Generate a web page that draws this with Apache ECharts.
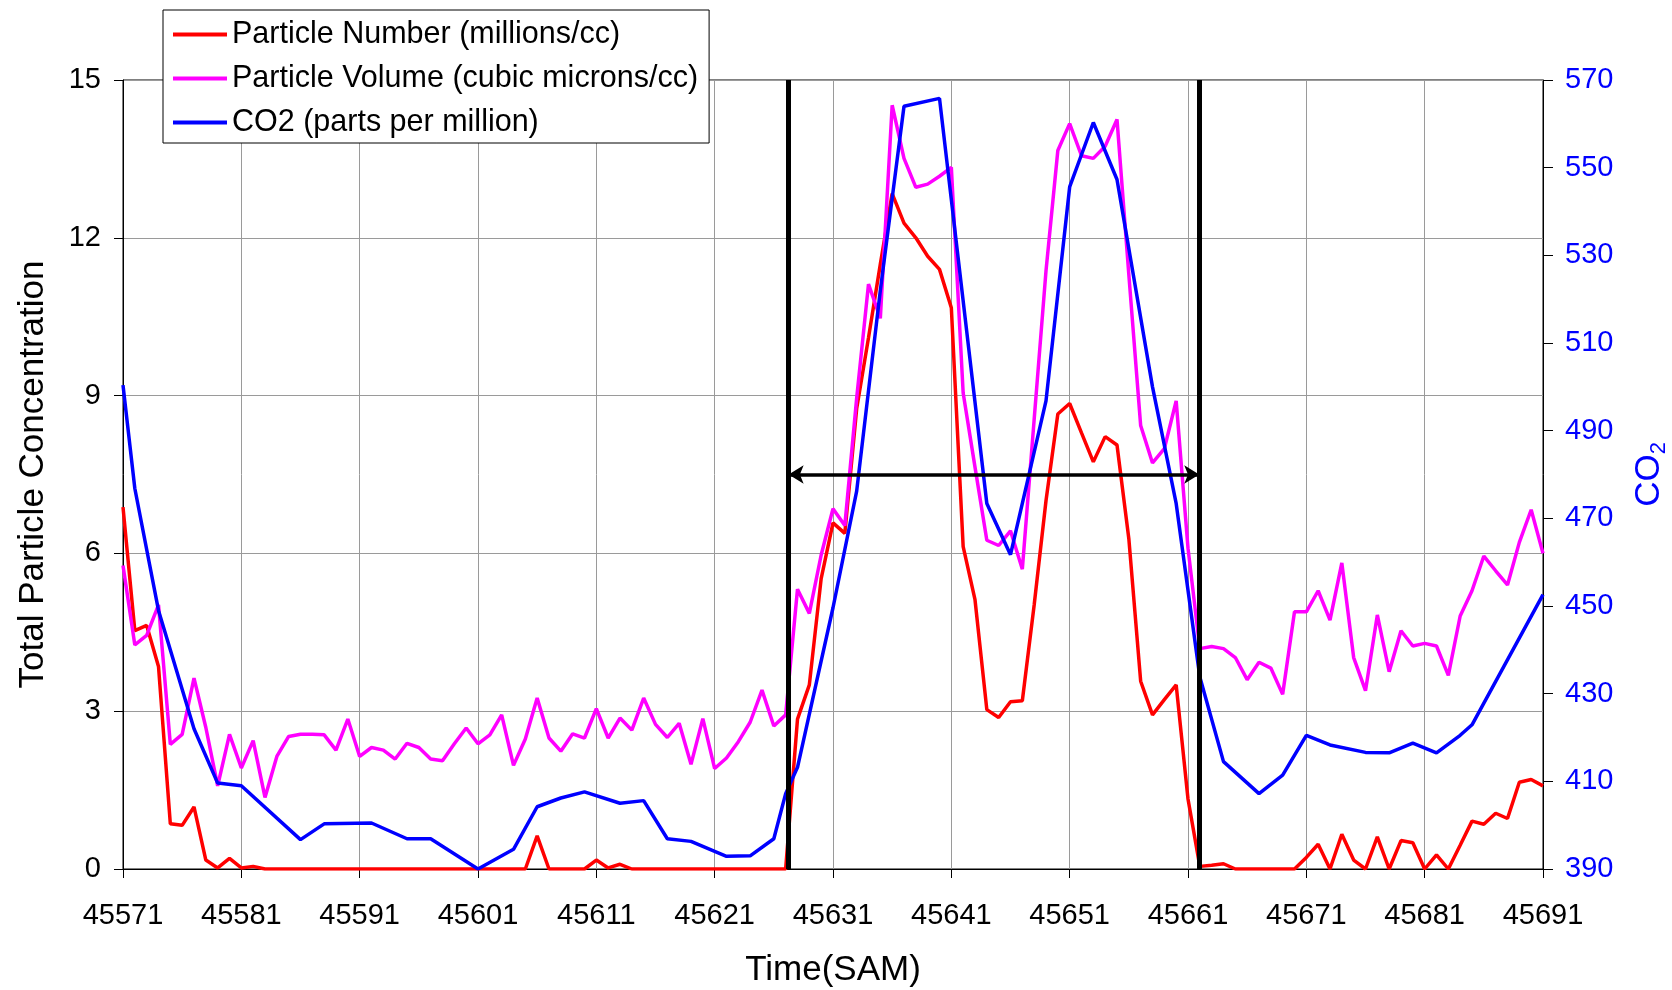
<!DOCTYPE html>
<html>
<head>
<meta charset="utf-8">
<title>Particle and CO2 concentration</title>
<script src="https://cdn.jsdelivr.net/npm/echarts@6/dist/echarts.min.js"></script>
<style>
  html, body { margin: 0; padding: 0; background: #fff; }
  #chart { width: 1672px; height: 990px; }
</style>
</head>
<body>
<div id="chart"></div>
<script>
// Time axis origin (seconds after midnight); particle samples are one per second from here.
const T0 = 45571;
const T_END = 45691;

// Particle number, millions/cc, one value per second from 45571 to 45691
const particleNumber = [
  6.88, 4.53, 4.63, 3.85, 0.86, 0.83, 1.18, 0.17, 0.02, 0.20,   // 45571-45580
  0.02, 0.05, 0, 0, 0, 0, 0, 0, 0, 0,                           // 45581-45590
  0, 0, 0, 0, 0, 0, 0, 0, 0, 0,                                 // 45591-45600
  0, 0, 0, 0, 0, 0.63, 0, 0, 0, 0,                              // 45601-45610
  0.17, 0.02, 0.09, 0, 0, 0, 0, 0, 0, 0,                        // 45611-45620
  0, 0, 0, 0, 0, 0, 0, 2.85, 3.50, 5.52,                        // 45621-45630
  6.58, 6.38, 8.75, 10.1, 11.5, 12.84, 12.28, 12.0, 11.65, 11.4, // 45631-45640
  10.67, 6.13, 5.12, 3.03, 2.88, 3.18, 3.20, 5.02, 7.0, 8.65,   // 45641-45650
  8.85, 8.29, 7.74, 8.22, 8.06, 6.28, 3.57, 2.93, 3.22, 3.50,   // 45651-45660
  1.33, 0.05, 0.07, 0.10, 0, 0, 0, 0, 0, 0,                     // 45661-45670
  0.22, 0.47, 0, 0.66, 0.17, 0, 0.61, 0, 0.54, 0.50,            // 45671-45680
  0, 0.27, 0, 0.45, 0.91, 0.85, 1.06, 0.96, 1.65, 1.70,         // 45681-45690
  1.58                                                          // 45691
];

// Particle volume, cubic microns/cc, same time base
const particleVolume = [
  5.77, 4.26, 4.44, 5.02, 2.37, 2.56, 3.63, 2.69, 1.58, 2.56,   // 45571-45580
  1.92, 2.44, 1.36, 2.14, 2.52, 2.56, 2.56, 2.55, 2.26, 2.85,   // 45581-45590
  2.14, 2.31, 2.26, 2.09, 2.39, 2.31, 2.09, 2.06, 2.38, 2.68,   // 45591-45600
  2.38, 2.55, 2.93, 1.97, 2.47, 3.25, 2.49, 2.24, 2.57, 2.49,   // 45601-45610
  3.05, 2.49, 2.87, 2.64, 3.25, 2.75, 2.50, 2.77, 1.99, 2.86,   // 45611-45620
  1.91, 2.11, 2.42, 2.79, 3.40, 2.72, 2.93, 5.32, 4.86, 5.97,   // 45621-45630
  6.85, 6.53, 8.95, 11.12, 10.47, 14.52, 13.51, 12.96, 13.02, 13.17, // 45631-45640
  13.34, 9.05, 7.64, 6.25, 6.15, 6.43, 5.70, 8.55, 11.37, 13.66, // 45641-45650
  14.17, 13.56, 13.51, 13.74, 14.25, 11.3, 8.43, 7.72, 7.99, 8.90, // 45651-45660
  6.1, 4.19, 4.23, 4.19, 4.02, 3.60, 3.93, 3.82, 3.32, 4.89,    // 45661-45670
  4.89, 5.29, 4.73, 5.82, 4.02, 3.39, 4.83, 3.75, 4.53, 4.24,   // 45671-45680
  4.29, 4.24, 3.68, 4.81, 5.29, 5.95, 5.67, 5.40, 6.21, 6.83,   // 45681-45690
  6.00                                                          // 45691
];

// CO2 readings (ppm) at their own sample times
const co2Time = [
  45571, 45572, 45574, 45577, 45579, 45581, 45586, 45588, 45592, 45595,
  45597, 45601, 45604, 45606, 45608, 45610, 45613, 45615, 45617, 45619,
  45622, 45624, 45626, 45627, 45628, 45631, 45633, 45635, 45637, 45640,
  45644, 45646, 45649, 45651, 45653, 45655, 45658, 45660, 45662, 45664,
  45667, 45669, 45671, 45673, 45676, 45678, 45680, 45682, 45684, 45685,
  45691
];
const co2Value = [
  500.4, 476.8, 449.0, 422.0, 409.6, 409.0, 396.7, 400.3, 400.5, 396.9,
  396.9, 390.0, 394.5, 404.2, 406.2, 407.6, 405.0, 405.6, 396.9, 396.3,
  392.9, 393.0, 396.9, 407.2, 413.2, 449.6, 476.2, 522.0, 564.0, 565.8,
  473.4, 461.7, 496.8, 545.6, 560.3, 547.3, 500.0, 473.4, 433.8, 414.5,
  407.2, 411.4, 420.5, 418.3, 416.6, 416.5, 418.7, 416.5, 420.5, 422.9,
  452.6
];

// Event window marked with vertical bars and a double-headed arrow
const eventStart = 45627.25;
const eventEnd = 45661.95;
const arrowLevel = 7.5;

const FONT = '"Liberation Sans", Arial, sans-serif';
const BLUE = '#0000FF';

// x positions are seconds elapsed since T0; the axis labels show real time
const numberData = particleNumber.map((v, i) => [i, v]);
const volumeData = particleVolume.map((v, i) => [i, v]);
const co2Data = co2Time.map((t, k) => [t - T0, co2Value[k]]);

const chart = echarts.init(document.getElementById('chart'), null, { renderer: 'canvas' });

chart.setOption({
  animation: false,
  backgroundColor: '#ffffff',
  textStyle: { fontFamily: FONT },
  grid: {
    left: 123, right: 129, top: 80, bottom: 121,
    outerBoundsMode: 'none',
    containLabel: false,
    show: true, borderColor: '#000', borderWidth: 1, backgroundColor: 'transparent'
  },
  legend: {
    orient: 'vertical',
    left: 163, top: 10,
    padding: [9, 11, 5, 10],
    itemGap: 13,
    itemWidth: 54, itemHeight: 4,
    icon: 'rect',
    borderColor: '#000', borderWidth: 1, borderRadius: 0,
    backgroundColor: '#ffffff',
    textStyle: { fontSize: 30.5, lineHeight: 30, color: '#000', fontFamily: FONT },
    data: ['Particle Number (millions/cc)', 'Particle Volume (cubic microns/cc)', 'CO2 (parts per million)'],
    selectedMode: false
  },
  xAxis: {
    type: 'value',
    min: 0, max: T_END - T0, interval: 10,
    name: 'Time(SAM)',
    nameLocation: 'middle',
    nameGap: 84,
    nameTextStyle: { fontSize: 35, color: '#000', fontFamily: FONT },
    axisLine: { show: true, onZero: false, lineStyle: { color: '#000', width: 1 } },
    axisTick: { show: true, length: 9, lineStyle: { color: '#000' } },
    axisLabel: {
      fontSize: 29, color: '#000', margin: 32, fontFamily: FONT,
      formatter: v => String(T0 + v)
    },
    splitLine: { show: true, lineStyle: { color: '#9a9a9a', width: 1 } }
  },
  yAxis: [
    {
      type: 'value',
      position: 'left',
      min: 0, max: 15, interval: 3,
      name: 'Total Particle Concentration',
      nameLocation: 'middle',
      nameGap: 72,
      nameTextStyle: { fontSize: 35, color: '#000', fontFamily: FONT },
      axisLine: { show: true, lineStyle: { color: '#000', width: 1 } },
      axisTick: { show: true, length: 9, lineStyle: { color: '#000' } },
      axisLabel: { fontSize: 29, color: '#000', margin: 22, fontFamily: FONT },
      splitLine: { show: true, lineStyle: { color: '#9a9a9a', width: 1 } }
    },
    {
      type: 'value',
      position: 'right',
      min: 390, max: 570, interval: 20,
      name: 'CO{sub|2}',
      nameLocation: 'middle',
      nameRotate: 90,
      nameGap: 85,
      nameTextStyle: {
        fontSize: 35, color: BLUE, fontFamily: FONT, lineHeight: 42,
        rich: { sub: { fontSize: 22, color: BLUE, fontFamily: FONT, lineHeight: 22, verticalAlign: 'bottom' } }
      },
      axisLine: { show: true, lineStyle: { color: '#000', width: 1 } },
      axisTick: { show: true, length: 10, lineStyle: { color: '#000' } },
      axisLabel: { fontSize: 29, color: BLUE, margin: 22, fontFamily: FONT },
      splitLine: { show: false }
    }
  ],
  series: [
    {
      name: 'Particle Number (millions/cc)',
      type: 'line',
      yAxisIndex: 0,
      data: numberData,
      showSymbol: false,
      symbol: 'none',
      color: '#FF0000',
      lineStyle: { color: '#FF0000', width: 3.5 },
      z: 2
    },
    {
      name: 'Particle Volume (cubic microns/cc)',
      type: 'line',
      yAxisIndex: 0,
      data: volumeData,
      showSymbol: false,
      symbol: 'none',
      color: '#FF00FF',
      lineStyle: { color: '#FF00FF', width: 3.5 },
      z: 2
    },
    {
      name: 'CO2 (parts per million)',
      type: 'line',
      yAxisIndex: 1,
      data: co2Data,
      showSymbol: false,
      symbol: 'none',
      color: BLUE,
      lineStyle: { color: BLUE, width: 3.5 },
      z: 3
    },
    {
      // event window: two vertical bars and a double-headed arrow between them
      name: 'event window',
      type: 'line',
      yAxisIndex: 0,
      data: [],
      z: 5,
      silent: true,
      markLine: {
        silent: true,
        animation: false,
        symbol: ['none', 'none'],
        label: { show: false },
        emphasis: { disabled: true },
        lineStyle: { color: '#000', width: 5, type: 'solid' },
        data: [
          { xAxis: eventStart - T0 },
          { xAxis: eventEnd - T0 },
          [
            { coord: [eventStart - T0, arrowLevel], symbol: 'arrow', symbolSize: [14, 15],
              lineStyle: { color: '#000', width: 3.5, type: 'solid' } },
            { coord: [eventEnd - T0, arrowLevel], symbol: 'arrow', symbolSize: [14, 15] }
          ]
        ]
      }
    }
  ]
});
</script>
</body>
</html>
